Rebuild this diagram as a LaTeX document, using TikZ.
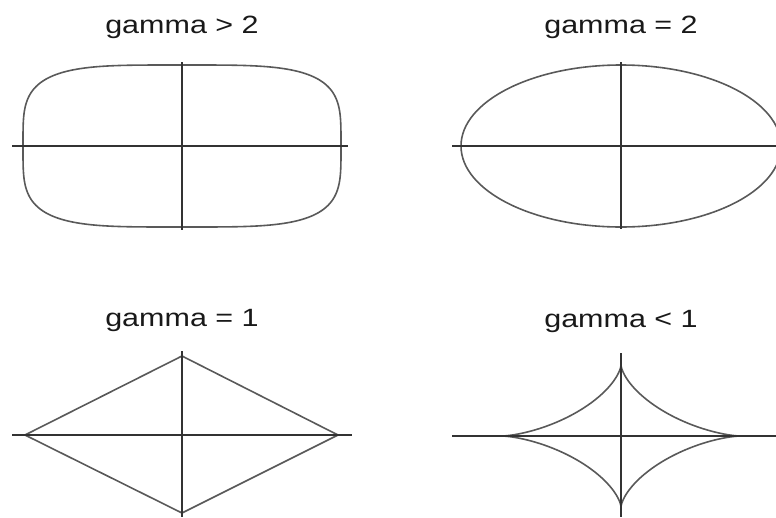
\documentclass[tikz,border=0pt]{standalone}
\usepackage{fontspec}
\setmainfont{Liberation Sans}
\usepackage{tikz}

\tikzset{
  axis/.style={draw=black!80, line width=1.5pt},
  curve/.style={draw=black!65, line width=1.6pt},
  label/.style={font=\fontsize{25}{30}\selectfont, text=black!90, anchor=base, inner sep=0pt, xscale=1.22}
}

\begin{document}
\begin{tikzpicture}[x=1pt,y=-1pt]
        \useasboundingbox (0,0) rectangle (776,517);
        % Top left: gamma > 2 (superellipse, exponent 4)
        \node[label] (gt2) at (182,33) {gamma > 2};
        \draw[curve] plot[domain=0:360,samples=240,smooth cycle]
          ({182+159*sign(cos(\x))*sqrt(abs(cos(\x)))},{146+81*sign(sin(\x))*sqrt(abs(sin(\x)))});
        \draw[axis, line width=2.2pt] (12,146) -- (348,146);
        \draw[axis, line width=2.2pt] (182,62) -- (182,230);
        % Top right: gamma = 2 (ellipse)
        \node[label] (eq2) at (621,33) {gamma = 2};
        \draw[curve] (621,146) ellipse [x radius=160, y radius=81];
        \draw[axis] (452,146) -- (776,146);
        \draw[axis] (621,62) -- (621,229);
        % Bottom left: gamma = 1 (diamond)
        \node[label] (eq1) at (182,326) {gamma = 1};
        \draw[curve] (25,435) -- (182,356) -- (338,435) -- (182,513) -- cycle;
        \draw[axis] (12,435) -- (352,435);
        \draw[axis, line width=2pt] (182,351) -- (182,517);
        % Bottom right: gamma < 1 (astroid)
        \node[label] (lt1) at (621,327) {gamma < 1};
        \draw[curve] plot[domain=0:360,samples=240,smooth cycle]
          ({621+119*cos(\x)^3},{436+71*sin(\x)^3});
        \draw[axis] (452,436) -- (776,436);
        \draw[axis] (621,353) -- (621,517);
      \end{tikzpicture}
\end{document}
